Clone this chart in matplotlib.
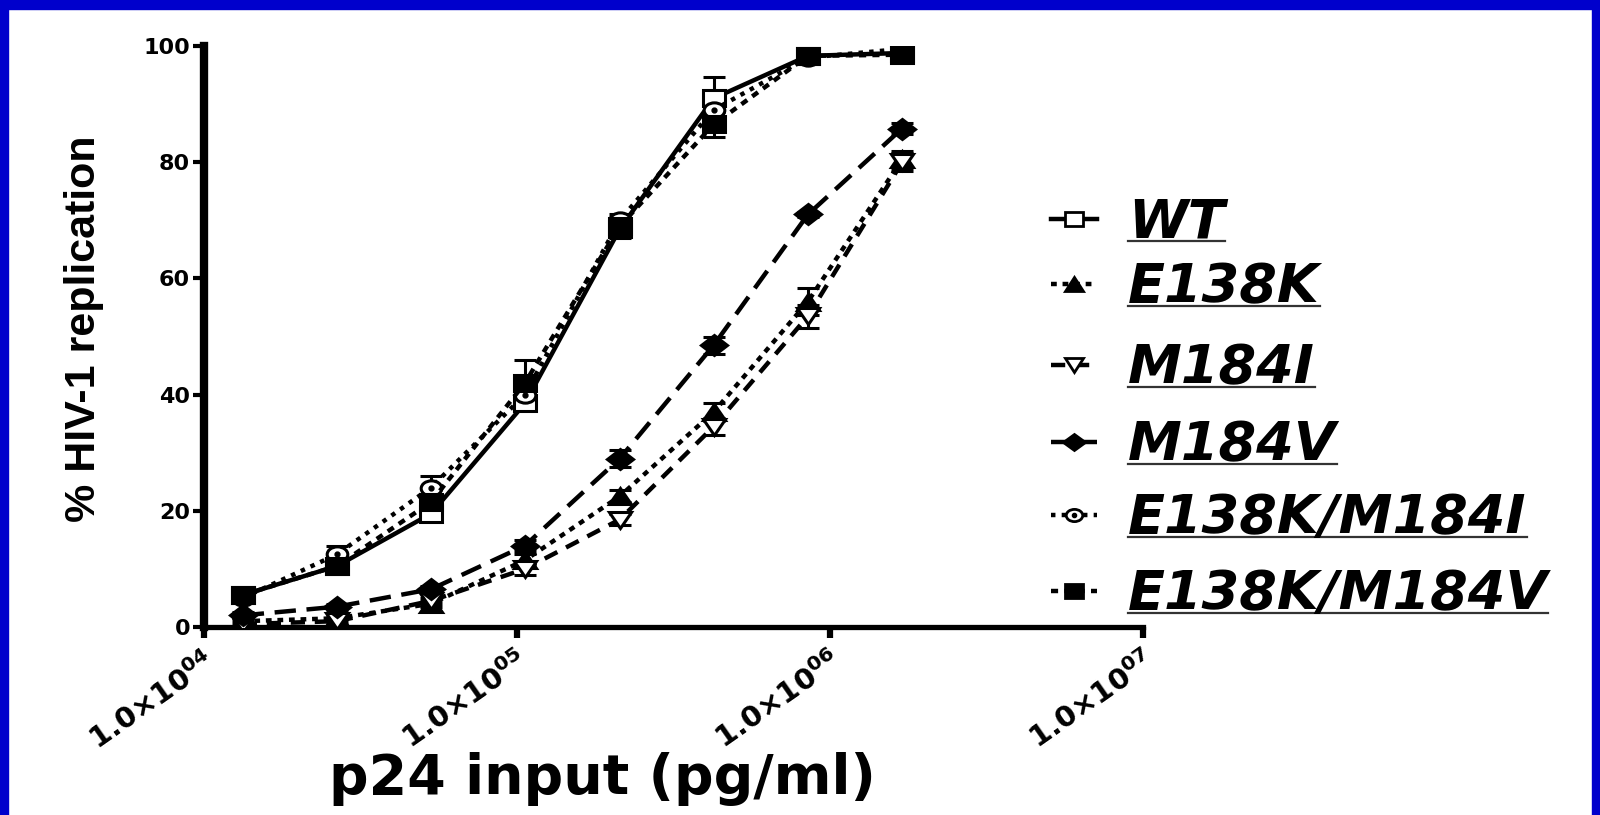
import matplotlib
matplotlib.use("Agg")
import matplotlib.pyplot as plt
from matplotlib.lines import Line2D
from matplotlib.markers import MarkerStyle
from matplotlib.patches import Rectangle
from matplotlib.transforms import Affine2D
from matplotlib.ticker import NullLocator

# p24 input (pg/ml), two-fold dilution series
p24_input = [13300, 26600, 53100, 106000, 213000, 425000, 850000, 1700000]

series_names = ["WT", "E138K", "M184I", "M184V", "E138K/M184I", "E138K/M184V"]

wt_mean = [5.5, 10.5, 19.5, 38.5, 68.5, 91.0, 98.3, 98.8]
wt_sd = [0.5, 0.8, 1.0, 1.0, 1.5, 3.7, 0.3, 0.5]

e138k_mean = [1.0, 1.5, 4.0, 11.5, 22.5, 37.0, 56.0, 80.5]
e138k_sd = [0.5, 0.5, 0.5, 1.0, 1.0, 1.5, 2.3, 1.5]

m184i_mean = [0.5, 1.0, 4.5, 10.0, 18.5, 34.5, 53.5, 80.0]
m184i_sd = [0.5, 0.5, 0.5, 1.0, 1.0, 1.5, 2.0, 1.5]

m184v_mean = [2.0, 3.5, 6.5, 14.0, 29.0, 48.5, 71.0, 85.8]
m184v_sd = [0.5, 0.5, 0.5, 1.0, 1.5, 1.5, 0.5, 1.0]

e138k_m184i_mean = [5.0, 12.5, 24.0, 40.0, 70.0, 89.0, 98.0, 99.5]
e138k_m184i_sd = [0.5, 1.5, 2.0, 1.0, 1.0, 1.5, 0.5, 0.5]

e138k_m184v_mean = [5.5, 10.5, 21.5, 42.0, 69.0, 86.5, 98.3, 98.5]
e138k_m184v_sd = [0.5, 1.0, 1.0, 4.0, 1.5, 2.2, 0.5, 0.5]

x_ticks = [1e4, 1e5, 1e6, 1e7]
x_tick_labels = [r"$\mathbf{1.0{\times}10^{04}}$", r"$\mathbf{1.0{\times}10^{05}}$",
                 r"$\mathbf{1.0{\times}10^{06}}$", r"$\mathbf{1.0{\times}10^{07}}$"]
y_ticks = [0, 20, 40, 60, 80, 100]

means = [wt_mean, e138k_mean, m184i_mean, m184v_mean, e138k_m184i_mean, e138k_m184v_mean]
sds = [wt_sd, e138k_sd, m184i_sd, m184v_sd, e138k_m184i_sd, e138k_m184v_sd]

W, H = 1600, 815
fx = lambda px: px / W
fy = lambda py: 1 - py / H

wide = Affine2D().scale(1.35, 1.0)


def mk(m):
    return MarkerStyle(m, transform=wide)


styles = [
    dict(ls="-", marker="s", mfc="white", ms=12),
    dict(ls=(0, (1.3, 1.3)), marker="^", mfc="black", ms=12),
    dict(ls=(0, (3.2, 2.2)), marker="v", mfc="white", ms=12),
    dict(ls=(0, (4.8, 2.4)), marker="D", mfc="black", ms=10),
    dict(ls=(0, (1.0, 1.4)), marker="o", mfc="white", ms=11),
    dict(ls=(0, (1.6, 1.4)), marker="s", mfc="black", ms=12),
]

plt.rcParams["font.family"] = ["DejaVu Sans"]
plt.rcParams["mathtext.fontset"] = "dejavusans"

fig = plt.figure(figsize=(16, 8.15), dpi=100)
fig.patch.set_facecolor("white")

ax = fig.add_axes([fx(204), fy(627), (1143 - 204) / W, (627 - 46) / H])
ax.set_xscale("log")
ax.set_xlim(1e4, 1e7)
ax.set_ylim(0, 100)

LW = 3.2
for mean, sd, st in zip(means, sds, styles):
    ax.errorbar(p24_input, mean, yerr=sd, fmt="none", ecolor="black",
                elinewidth=2.2, capsize=8, capthick=2.2, zorder=2)
    ax.plot(p24_input, mean, color="black", lw=LW, ls=st["ls"],
            marker=mk(st["marker"]), ms=st["ms"], mfc=st["mfc"],
            mec="black", mew=2.2, zorder=3)
    if st["marker"] == "o":
        ax.plot(p24_input, mean, ls="none", marker="o", ms=3.5,
                color="black", zorder=4)

for side in ("top", "right"):
    ax.spines[side].set_visible(False)
ax.spines["left"].set_linewidth(6)
ax.spines["bottom"].set_linewidth(3.8)
ax.spines["left"].set_capstyle("projecting")
ax.spines["bottom"].set_capstyle("projecting")

ax.set_yticks(y_ticks)
ax.set_yticklabels([str(v) for v in y_ticks], fontsize=16, fontweight="bold")
ax.set_xticks(x_ticks)
ax.xaxis.set_minor_locator(NullLocator())
ax.set_xticklabels(x_tick_labels, fontsize=21, rotation=35,
                   ha="right", va="top", rotation_mode="anchor")
ax.tick_params(axis="y", direction="out", length=8, width=3, pad=2)
ax.tick_params(axis="x", direction="out", length=8, width=4.5, pad=6)

fig.text(fx(84), fy(329), "% HIV-1 replication", rotation=90,
         ha="center", va="center", fontsize=31, fontweight="bold",
         family="Liberation Sans")
fig.text(fx(602), fy(794), "p24 input (pg/ml)", ha="center", va="baseline",
         fontsize=40, fontweight="bold")

# legend drawn by hand: sample line + marker, underlined italic label
legend_baselines = [237, 302, 383, 460, 533, 609]
texts = []
for name, st, base in zip(series_names, styles, legend_baselines):
    yc = base - 18
    fig.add_artist(Line2D([fx(1051), fx(1097)], [fy(yc), fy(yc)],
                          transform=fig.transFigure, color="black", lw=LW,
                          ls=st["ls"]))
    fig.add_artist(Line2D([fx(1074)], [fy(yc)], transform=fig.transFigure,
                          marker=mk(st["marker"]), ms=st["ms"] * 0.8,
                          mfc=st["mfc"], mec="black", mew=2, ls="none"))
    if st["marker"] == "o":
        fig.add_artist(Line2D([fx(1074)], [fy(yc)], transform=fig.transFigure,
                              marker="o", ms=3, color="black", ls="none"))
    t = fig.text(fx(1128), fy(base), name, ha="left", va="baseline",
                 fontsize=39, fontweight="bold", fontstyle="italic")
    texts.append((t, base))

fig.canvas.draw()
for t, base in texts:
    bb = t.get_window_extent()
    fig.add_artist(Line2D([fx(1128), bb.x1 / fig.dpi / fig.get_figwidth()],
                          [fy(base + 4), fy(base + 4)],
                          transform=fig.transFigure, color="#333333", lw=1.6))

# blue slide frame
blue = "#0000CC"
fig.add_artist(Rectangle((0, 0), fx(8), 1, transform=fig.transFigure,
                         color=blue, zorder=10))
fig.add_artist(Rectangle((1 - fx(8), 0), fx(8), 1, transform=fig.transFigure,
                         color=blue, zorder=10))
fig.add_artist(Rectangle((0, 1 - 9 / H), 1, 9 / H, transform=fig.transFigure,
                         color=blue, zorder=10))

fig.savefig("out.png", dpi=100, facecolor="white")
